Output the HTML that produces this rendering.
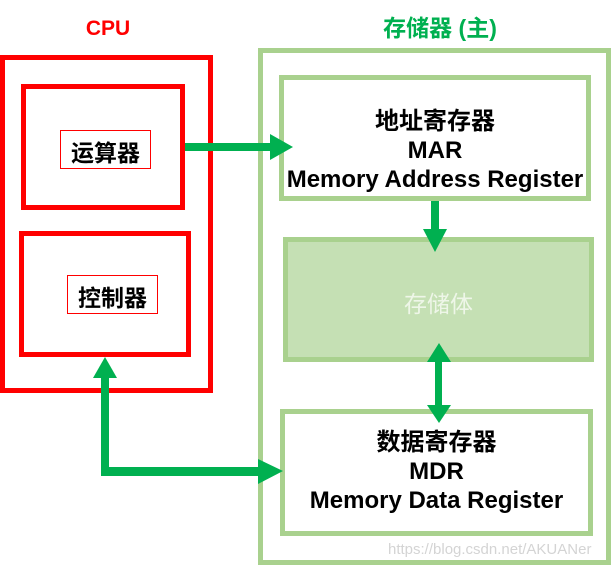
<!DOCTYPE html>
<html><head><meta charset="utf-8"><style>
html,body{margin:0;padding:0;background:#fff;}
body{width:613px;height:566px;position:relative;overflow:hidden;font-family:"Liberation Sans","Noto Sans CJK SC",sans-serif;}
.b{position:absolute;box-sizing:border-box;}
.t{position:absolute;text-align:center;white-space:nowrap;font-weight:bold;color:#000;}
</style></head><body>
<div class="t" style="left:58px;top:17px;width:100px;font-size:21px;color:#ff0000;">CPU</div>
<div class="t" style="left:320px;top:9px;width:240px;font-size:23px;color:#00b050;">存储器 (主)</div>

<div class="b" style="left:0;top:55px;width:213px;height:338px;border:5px solid #ff0000;"></div>
<div class="b" style="left:21px;top:84px;width:164px;height:126px;border:5px solid #ff0000;"></div>
<div class="b" style="left:60px;top:130px;width:91px;height:39px;border:1px solid #ff0000;"></div>
<div class="t" style="left:55px;top:134px;width:101px;font-size:23px;">运算器</div>
<div class="b" style="left:19px;top:231px;width:172px;height:126px;border:5px solid #ff0000;"></div>
<div class="b" style="left:67px;top:275px;width:91px;height:39px;border:1px solid #ff0000;"></div>
<div class="t" style="left:62px;top:279px;width:101px;font-size:23px;">控制器</div>

<div class="b" style="left:258px;top:48px;width:353px;height:517px;border:5px solid #a9d18e;"></div>
<div class="b" style="left:279px;top:75px;width:312px;height:126px;border:5px solid #a9d18e;background:#fff;"></div>
<div class="t" style="left:279px;top:107px;width:312px;font-size:24px;line-height:29px;">地址寄存器<br>MAR<br>Memory Address Register</div>
<div class="b" style="left:283px;top:237px;width:311px;height:125px;border:5px solid #a9d18e;background:#c5e0b4;"></div>
<div class="t" style="left:283px;top:285px;width:311px;font-size:23px;color:#eef6e8;font-weight:normal;">存储体</div>
<div class="b" style="left:280px;top:409px;width:313px;height:127px;border:5px solid #a9d18e;background:#fff;"></div>
<div class="t" style="left:280px;top:428px;width:313px;font-size:24px;line-height:29px;">数据寄存器<br>MDR<br>Memory Data Register</div>

<svg class="b" style="left:0;top:0" width="613" height="566">
<g fill="#00b050" stroke="none">
<rect x="185" y="143" width="87" height="8"/>
<polygon points="270,134 293,147 270,160"/>
<rect x="431" y="201" width="8" height="30"/>
<polygon points="423,229 447,229 435,252"/>
<rect x="435" y="360" width="7" height="48"/>
<polygon points="427,362 451,362 439,343"/>
<polygon points="427,405 451,405 439,423"/>
<rect x="101" y="376" width="8" height="100"/>
<polygon points="93,378 117,378 105,357"/>
<rect x="101" y="467" width="159" height="9"/>
<polygon points="258,459 283,471 258,484"/>
</g>
<text x="388" y="554" font-family="Liberation Sans,sans-serif" font-size="15" fill="#d4d4d4">https://blog.csdn.net/AKUANer</text>
</svg>
</body></html>
